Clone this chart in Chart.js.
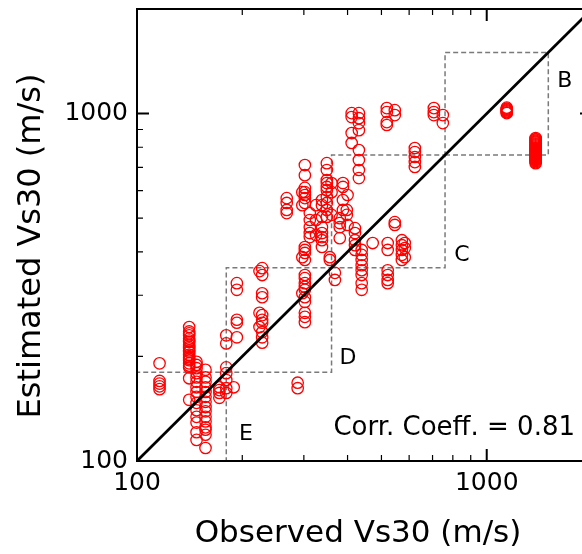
<!DOCTYPE html>
<html>
<head>
<meta charset="utf-8">
<script src="https://cdn.jsdelivr.net/npm/chart.js@4.4.0/dist/chart.umd.min.js"></script>
<style>
  html, body { margin: 0; padding: 0; background: #fff; overflow: hidden; }
  #wrap { position: relative; width: 600px; height: 554px; }
</style>
</head>
<body>
<div id="wrap"><canvas id="vsChart" width="600" height="554"></canvas></div>
<script>
// observed Vs30 (m/s) of each column of sites
const observedVs30 = [116, 141, 148, 157, 172, 180, 189, 193, 224, 228, 268, 288, 297, 302, 312, 325, 338, 349,
  356, 360, 368, 380, 388, 398, 400, 411, 420, 431, 439, 472, 518, 521, 546, 572, 583, 623, 706, 749, 1141, 1380];

// estimated Vs30 (m/s) of the sites in each column
const estimatedVs30 = [
  [191, 170, 167, 164, 161],
  [243, 236, 233, 230, 225, 222, 220, 216, 213, 211, 208, 206, 202, 199, 197, 195, 191, 188, 186, 173, 150],
  [193, 189, 185, 179, 174, 169, 163, 158, 153, 147, 140, 134, 129, 121, 115],
  [183, 174, 169, 163, 158, 153, 148, 143, 139, 134, 130, 125, 123, 119, 109],
  [163, 160, 157, 152],
  [230, 218, 186, 179, 171, 162, 157],
  [163],
  [325, 311, 255, 250, 227],
  [352, 267, 243],
  [359, 343, 304, 296, 263, 255, 250, 235, 227, 219],
  [571, 553, 528, 517],
  [168, 162],
  [594, 545, 386, 304],
  [711, 665, 611, 594, 583, 571, 553, 413, 405, 397, 379, 343, 336, 325, 317, 311, 296, 287, 267, 260, 251],
  [517, 494, 471, 453, 441],
  [545, 494, 447],
  [564, 545, 504, 471, 453, 441, 432, 413],
  [720, 688, 644, 631, 615, 602, 575, 553, 528, 504],
  [386, 379],
  [631, 594, 511],
  [348, 332],
  [500, 484, 471, 438],
  [631, 615, 564, 528],
  [528, 511],
  [583, 478],
  [1003, 977, 879, 823],
  [468, 453, 432, 418, 405],
  [1003, 970, 939, 896, 785, 735, 688, 652],
  [405, 392, 379, 366, 354, 343, 325, 311],
  [424],
  [1037, 1010, 945, 927],
  [424, 405, 354, 343, 332, 325],
  [1023, 990, 487, 478],
  [432, 418, 405, 392, 379],
  [424, 410, 386],
  [796, 775, 750, 725, 702],
  [1037, 1010, 990],
  [990, 939],
  [1040, 1033, 1027, 1021, 1015, 1009, 1003],
  [850, 845, 840, 835, 830, 825, 820, 815, 810, 805, 800, 795, 790, 785, 780, 775, 770, 765, 760, 755, 750,
    745, 740, 735, 730, 725, 720]
];

// site class limits (m/s): E | D | C | B
const classBounds = [100, 180, 360, 760, 1500];
const classNames = ['E', 'D', 'C', 'B'];

const axisMin = 100;
const axisMax = 2000;
const labelledTicks = [100, 1000];
const corrCoeff = 0.81;

const FONT = '"DejaVu Sans", Verdana, sans-serif';

const sitePoints = [];
observedVs30.forEach((obs, i) => {
  estimatedVs30[i].forEach(est => sitePoints.push({ x: obs, y: est }));
});

// one dashed square per site class
const classBoxes = classNames.map((name, k) => {
  const lo = classBounds[k], hi = classBounds[k + 1];
  return {
    label: name,
    data: [{ x: lo, y: lo }, { x: hi, y: lo }, { x: hi, y: hi }, { x: lo, y: hi }, { x: lo, y: lo }],
    showLine: true,
    borderColor: '#7a7a7a',
    borderWidth: 1.5,
    borderDash: [5, 3],
    pointRadius: 0,
    order: 2
  };
});

// frame, inward ticks and all the text
const decorPlugin = {
  id: 'decor',
  afterDraw(chart) {
    const ctx = chart.ctx;
    const a = chart.chartArea;
    const xs = chart.scales.x, ys = chart.scales.y;
    ctx.save();
    ctx.strokeStyle = '#000';

    for (let d = axisMin; d < axisMax; d *= 10) {
      for (let m = 1; m <= 9; m++) {
        const v = d * m;
        if (v <= axisMin || v >= axisMax) continue;
        const major = (m === 1);
        const len = major ? 12 : 6;
        ctx.lineWidth = major ? 2 : 1.2;
        const px = xs.getPixelForValue(v);
        const py = ys.getPixelForValue(v);
        ctx.beginPath();
        ctx.moveTo(px, a.bottom); ctx.lineTo(px, a.bottom - len);
        ctx.moveTo(px, a.top); ctx.lineTo(px, a.top + len);
        ctx.moveTo(a.left, py); ctx.lineTo(a.left + len, py);
        ctx.moveTo(a.right, py); ctx.lineTo(a.right - len, py);
        ctx.stroke();
      }
    }

    ctx.lineWidth = 2;
    ctx.strokeRect(a.left, a.top, a.right - a.left, a.bottom - a.top);

    ctx.fillStyle = '#000';
    ctx.textBaseline = 'middle';
    ctx.textAlign = 'center';

    // class letters
    const letterAt = { E: [205, 119], D: [401, 197], C: [850, 392], B: [1671, 1240] };
    ctx.font = '22px ' + FONT;
    classNames.forEach(n => {
      const p = letterAt[n];
      ctx.fillText(n, xs.getPixelForValue(p[0]), ys.getPixelForValue(p[1]));
    });

    ctx.font = '26px ' + FONT;
    ctx.textAlign = 'right';
    ctx.textBaseline = 'alphabetic';
    ctx.fillText('Corr. Coeff. = ' + corrCoeff.toFixed(2), 575, 435);

    // axis titles
    ctx.textAlign = 'center';
    ctx.textBaseline = 'middle';
    ctx.font = '31px ' + FONT;
    ctx.fillText('Observed Vs30 (m/s)', 358, 534);
    ctx.font = '32px ' + FONT;
    ctx.translate(32, 246);
    ctx.rotate(-Math.PI / 2);
    ctx.fillText('Estimated Vs30 (m/s)', 0, 0);
    ctx.restore();
  }
};

const tickFont = { family: FONT, size: 25 };

new Chart(document.getElementById('vsChart'), {
  type: 'scatter',
  data: {
    datasets: [
      {
        label: '1:1',
        data: [{ x: axisMin, y: axisMin }, { x: axisMax, y: axisMax }],
        showLine: true,
        borderColor: '#000',
        borderWidth: 2.7,
        pointRadius: 0,
        order: 0
      },
      {
        label: 'sites',
        data: sitePoints,
        pointStyle: 'circle',
        pointRadius: 5.7,
        borderWidth: 1.3,
        borderColor: '#ff0000',
        backgroundColor: 'rgba(0,0,0,0)',
        order: 1
      },
      ...classBoxes
    ]
  },
  options: {
    responsive: false,
    animation: false,
    devicePixelRatio: 1,
    layout: { padding: { top: 9, right: 8, left: 0, bottom: 0 } },
    plugins: { legend: { display: false }, tooltip: { enabled: false } },
    scales: {
      x: {
        type: 'logarithmic',
        min: axisMin,
        max: axisMax,
        grid: { display: false, drawTicks: false },
        border: { display: false },
        afterBuildTicks: s => { s.ticks = labelledTicks.map(v => ({ value: v })); },
        afterFit: s => { s.height = 93; s.paddingLeft = 0; s.paddingRight = 0; },
        ticks: { callback: v => String(v), font: tickFont, color: '#000', padding: 7, maxRotation: 0, autoSkip: false }
      },
      y: {
        type: 'logarithmic',
        min: axisMin,
        max: axisMax,
        grid: { display: false, drawTicks: false },
        border: { display: false },
        afterBuildTicks: s => { s.ticks = labelledTicks.map(v => ({ value: v })); },
        afterFit: s => { s.width = 137; s.paddingTop = 0; s.paddingBottom = 0; },
        ticks: { callback: v => String(v), font: tickFont, color: '#000', padding: 9, autoSkip: false }
      }
    }
  },
  plugins: [decorPlugin]
});
</script>
</body>
</html>
